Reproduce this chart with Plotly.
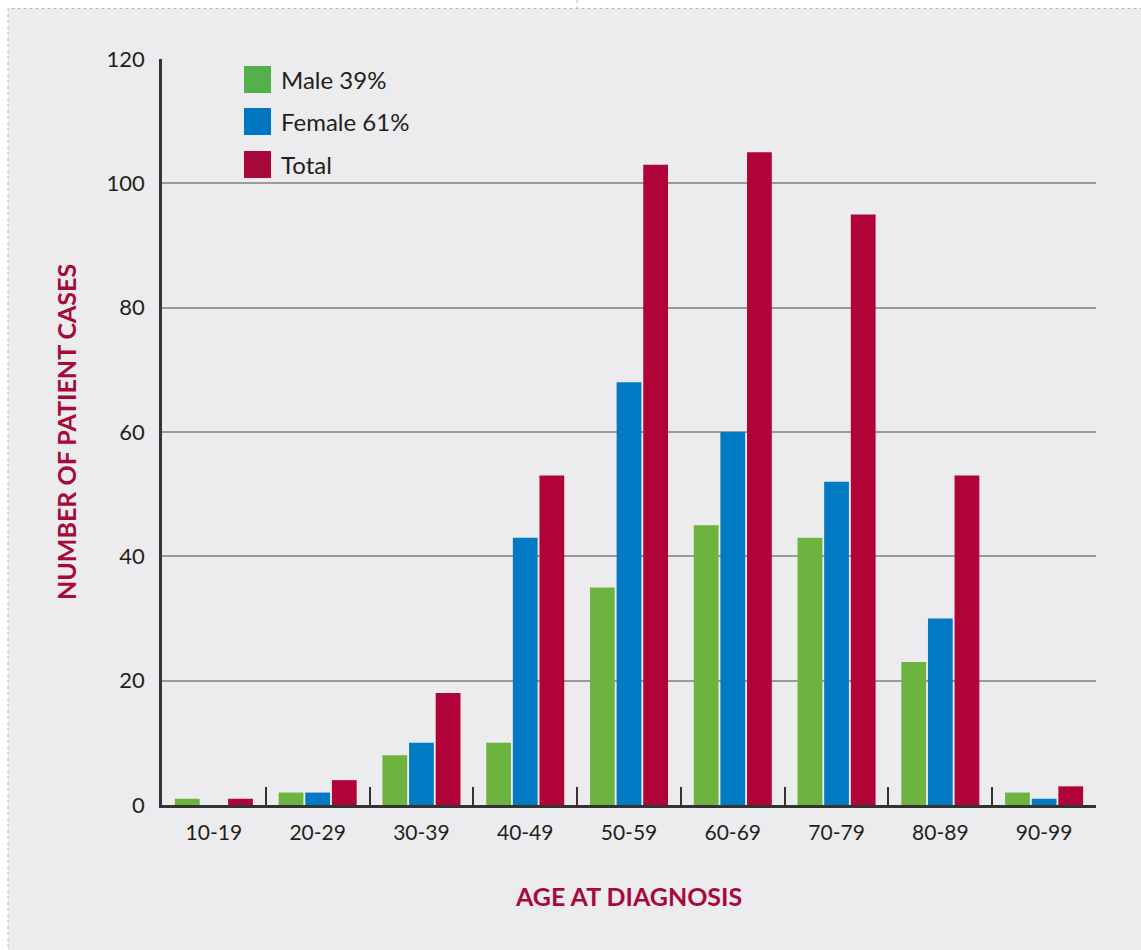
import plotly.graph_objects as go

categories = ["10-19", "20-29", "30-39", "40-49", "50-59", "60-69", "70-79", "80-89", "90-99"]
male = [1, 2, 8, 10, 35, 45, 43, 23, 2]
female = [0, 2, 10, 43, 68, 60, 52, 30, 1]
total = [1, 4, 18, 53, 103, 105, 95, 53, 3]
series_names = ["Male 39%", "Female 61%", "Total"]
bar_colors = ["#6db33f", "#007ac2", "#b00337"]
legend_colors = ["#54b04a", "#0077c0", "#a6093a"]
y_ticks = [0, 20, 40, 60, 80, 100, 120]

W, H = 1141, 950
L, R, T, B = 162, 45, 59, 145
pw, ph = W - L - R, H - T - B


def px(x):
    return (x - L) / pw


def py(y):
    return (H - B - y) / ph


fig = go.Figure()
for name, vals, col in zip(series_names, [male, female, total], bar_colors):
    fig.add_trace(go.Bar(x=categories, y=vals, name=name, marker_color=col,
                         marker_line_width=0, showlegend=False))

font_family = "Lato, Open Sans, sans-serif"
text_col = "#231f20"
title_col = "#a6093a"

shapes = []
# outer panel
shapes.append(dict(type="rect", xref="paper", yref="paper", layer="below",
                   x0=px(8), x1=px(W + 5), y0=py(H + 5), y1=py(8.5),
                   fillcolor="#ececee", line=dict(color="#b8b8b8", width=1, dash="dot")))
shapes.append(dict(type="line", xref="paper", yref="paper", layer="below",
                   x0=px(577), x1=px(577), y0=py(0), y1=py(8),
                   line=dict(color="#b8b8b8", width=1, dash="dot")))

annotations = []
# legend
rows = [79.5, 121.5, 164.5]
for name, col, yc in zip(series_names, legend_colors, rows):
    shapes.append(dict(type="rect", xref="paper", yref="paper",
                       x0=px(244), x1=px(271), y0=py(yc + 13.5), y1=py(yc - 13.5),
                       fillcolor=col, line=dict(width=0)))
    annotations.append(dict(text=name, xref="paper", yref="paper", x=px(279), y=py(yc),
                            xanchor="left", yanchor="middle", showarrow=False,
                            font=dict(family=font_family, size=24, color=text_col)))

annotations.append(dict(text="<b>NUMBER OF PATIENT CASES</b>", xref="paper", yref="paper",
                        x=px(66), y=py(432), textangle=-90, xanchor="center", yanchor="middle",
                        showarrow=False, font=dict(family=font_family, size=25, color=title_col)))
annotations.append(dict(text="<b>AGE AT DIAGNOSIS</b>", xref="paper", yref="paper",
                        x=px(628), y=py(896), xanchor="center", yanchor="middle",
                        showarrow=False, font=dict(family=font_family, size=25, color=title_col)))

fig.update_layout(
    width=W, height=H,
    margin=dict(l=L, r=R, t=T, b=B, pad=0),
    paper_bgcolor="white",
    plot_bgcolor="rgba(0,0,0,0)",
    barmode="group",
    bargap=0.23,
    bargroupgap=0.07,
    shapes=shapes,
    annotations=annotations,
    font=dict(family=font_family, color=text_col),
)
fig.update_xaxes(
    type="category", range=[-0.5, len(categories) - 0.5],
    showline=True, linecolor="#333333", linewidth=2.5,
    ticks="inside", tickson="boundaries", ticklen=18, tickwidth=2, tickcolor="#333333",
    showgrid=False, zeroline=False,
    tickfont=dict(family=font_family, size=21, color=text_col),
    ticklabelstandoff=7,
)
fig.update_yaxes(
    range=[0, 120], tickvals=y_ticks,
    showline=True, linecolor="#333333", linewidth=2.5,
    ticks="", showgrid=True, gridcolor="#9a9a9a", gridwidth=2,
    zeroline=False,
    tickfont=dict(family=font_family, size=22, color=text_col),
    ticklabelstandoff=10,
)

fig.write_html("out.html")
